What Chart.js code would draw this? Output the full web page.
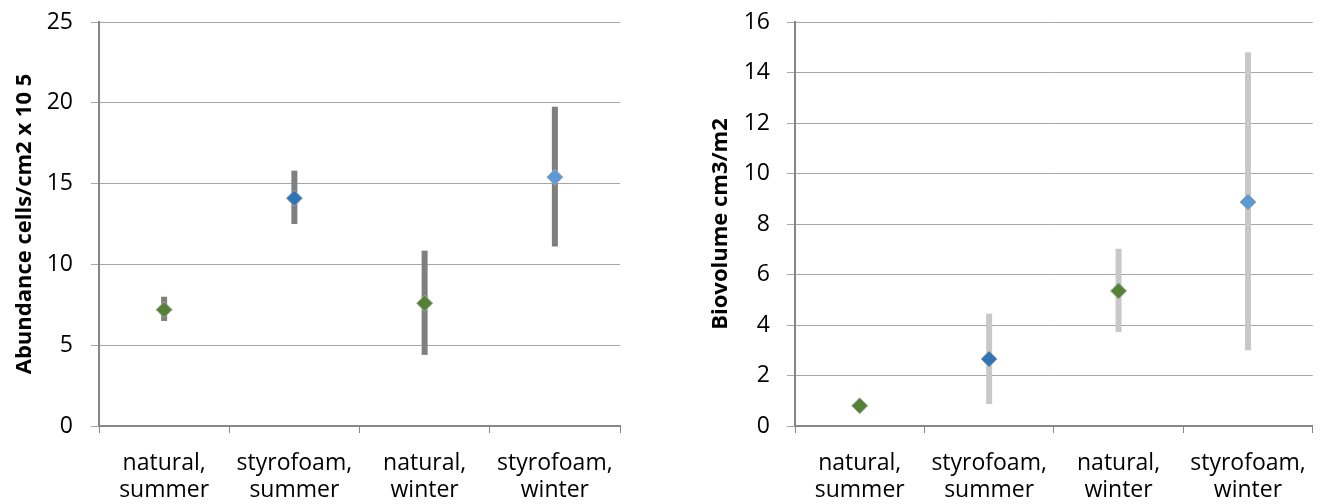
<!DOCTYPE html>
<html>
<head>
<meta charset="utf-8">
<script src="https://cdn.jsdelivr.net/npm/chart.js@4.4.0/dist/chart.umd.min.js"></script>
<style>
  html, body { margin: 0; padding: 0; background: #fff; }
  .box { position: absolute; top: 0; height: 504px; }
  #leftBox { left: 0; width: 650px; }
  #rightBox { left: 660px; width: 664px; }
</style>
</head>
<body>
<div class="box" id="leftBox"><canvas id="abundanceChart"></canvas></div>
<div class="box" id="rightBox"><canvas id="biovolumeChart"></canvas></div>
<script>
const categories = [
  ["natural,", "summer"],
  ["styrofoam,", "summer"],
  ["natural,", "winter"],
  ["styrofoam,", "winter"],
];
const pointColors = ["#548235", "#2e75b6", "#548235", "#5b9bd5"];

// abundance (cells/cm2 x 10^5)
const abundance = [7.2, 14.1, 7.6, 15.4];
const abundanceLow = [6.5, 12.5, 4.4, 11.1];
const abundanceHigh = [8.0, 15.8, 10.85, 19.75];

// biovolume (cm3/m2)
const biovolume = [0.8, 2.65, 5.35, 8.87];
const biovolumeLow = [0.7, 0.87, 3.72, 3.0];
const biovolumeHigh = [0.9, 4.45, 7.02, 14.8];

const tickFont = { family: "'Open Sans', sans-serif", size: 23, lineHeight: "27px" };
const titleFont = { family: "'Open Sans', sans-serif", size: 22, weight: "bold" };

// vertical error bars, drawn under the markers
const errorBars = {
  id: "errorBars",
  beforeDatasetsDraw(chart, args, opts) {
    const ctx = chart.ctx;
    const x = chart.scales.x, y = chart.scales.y;
    ctx.save();
    ctx.strokeStyle = opts.color;
    ctx.lineWidth = opts.width;
    opts.low.forEach((lo, i) => {
      const px = x.getPixelForValue(i);
      ctx.beginPath();
      ctx.moveTo(px, y.getPixelForValue(lo));
      ctx.lineTo(px, y.getPixelForValue(opts.high[i]));
      ctx.stroke();
    });
    ctx.restore();
  },
};

function makeChart(id, values, low, high, barColor, yMax, yStep, yTitle, yWidth, titlePad, labelPad, rightPad) {
  return new Chart(document.getElementById(id), {
    type: "line",
    data: {
      labels: categories,
      datasets: [
        {
          data: values,
          showLine: false,
          pointStyle: "rectRot",
          pointRadius: 8,
          pointHoverRadius: 8,
          pointBackgroundColor: pointColors,
          pointBorderColor: "#a6a6a6",
          pointBorderWidth: 1,
        },
      ],
    },
    options: {
      responsive: true,
      maintainAspectRatio: false,
      animation: false,
      layout: { padding: { top: 22, right: rightPad, bottom: 0, left: 0 } },
      plugins: {
        legend: { display: false },
        tooltip: { enabled: false },
        errorBars: { low: low, high: high, color: barColor, width: 6 },
      },
      scales: {
        x: {
          offset: true,
          grid: { offset: true, drawOnChartArea: false, color: "#868686", lineWidth: 1, tickLength: 7 },
          border: { color: "#868686", width: 2 },
          ticks: { color: "#000", font: tickFont, padding: 17, maxRotation: 0, autoSkip: false },
          afterFit: (s) => { s.height = 78; },
        },
        y: {
          min: 0,
          max: yMax,
          ticks: { stepSize: yStep, color: "#000", font: tickFont, padding: labelPad },
          grid: { color: "#a6a6a6", lineWidth: 1, tickLength: 8 },
          border: { color: "#868686", width: 2 },
          title: { display: true, text: yTitle, color: "#000", font: titleFont, padding: { top: titlePad, bottom: 0 } },
          afterFit: (s) => {
            s.width = yWidth;
            s.paddingTop = 0;
            s.paddingBottom = 0;
          },
        },
      },
    },
    plugins: [errorBars],
  });
}

makeChart("abundanceChart", abundance, abundanceLow, abundanceHigh, "#7f7f7f",
  25, 5, "Abundance cells/cm2 x 10 5", 99, 12, 18, 30);
makeChart("biovolumeChart", biovolume, biovolumeLow, biovolumeHigh, "#c8c8c8",
  16, 2, "Biovolume cm3/m2", 135, 48, 17, 10);
</script>
</body>
</html>
